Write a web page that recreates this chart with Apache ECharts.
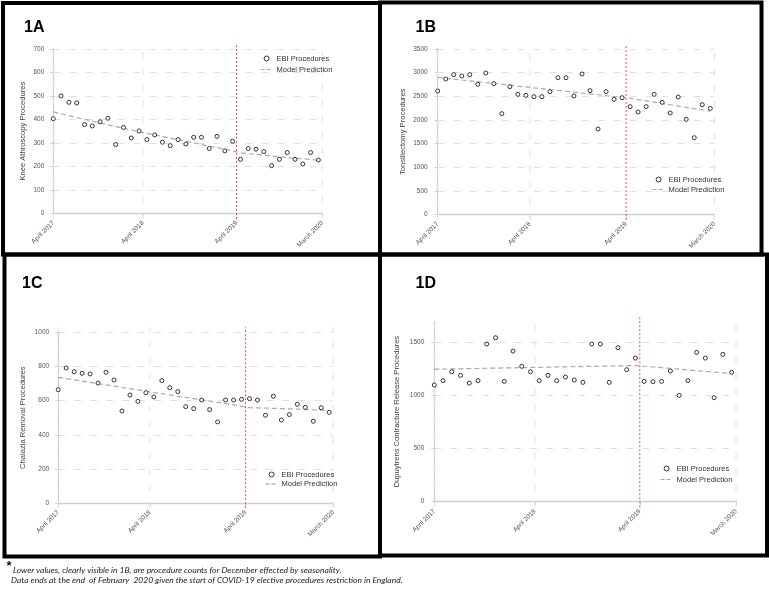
<!DOCTYPE html>
<html><head><meta charset="utf-8">
<script src="https://cdn.jsdelivr.net/npm/echarts@6/dist/echarts.min.js"></script>
<style>html,body{margin:0;padding:0;background:#fff}#c{width:769px;height:590px}</style>
</head><body><div id="c"></div>
<script>
// ---- data ----
const monthLabels = ['Apr 2017','May 2017','Jun 2017','Jul 2017','Aug 2017','Sep 2017','Oct 2017','Nov 2017','Dec 2017',
  'Jan 2018','Feb 2018','Mar 2018','Apr 2018','May 2018','Jun 2018','Jul 2018','Aug 2018','Sep 2018','Oct 2018','Nov 2018','Dec 2018',
  'Jan 2019','Feb 2019','Mar 2019','Apr 2019','May 2019','Jun 2019','Jul 2019','Aug 2019','Sep 2019','Oct 2019','Nov 2019','Dec 2019',
  'Jan 2020','Feb 2020'];
const xTickLabels = ['April 2017','April 2018','April 2019','March 2020'];
const xTickPositions = [0, 11.5, 23.5, 34.5];
const interventionPosition = 23.5;

const kneeObserved = [403,500,473,470,378,372,390,405,293,366,321,351,314,334,303,288,314,295,324,324,276,328,266,307,230,276,273,263,203,230,259,230,210,259,227];
const kneeModel = [432,424,416,408,400,393,385,377,370,362,355,348,341,334,327,320,314,307,300,293,286,280,273,266,258,254,251,248,244,241,238,235,232,229,226];
const kneeTicks = [0,100,200,300,400,500,600,700];

const tonsilObserved = [2613,2866,2958,2930,2958,2754,2993,2768,2134,2704,2542,2521,2493,2493,2599,2894,2894,2507,2972,2620,1810,2599,2437,2472,2282,2169,2282,2542,2373,2148,2486,2014,1627,2324,2246];
const tonsilModel = [2900,2882,2864,2845,2827,2809,2790,2772,2754,2735,2717,2699,2680,2662,2644,2625,2607,2589,2570,2552,2534,2516,2497,2479,2460,2432,2405,2377,2349,2322,2294,2266,2239,2211,2183];
const tonsilTicks = [0,500,1000,1500,2000,2500,3000,3500];

const chalaziaObserved = [663,790,768,759,755,702,765,720,539,632,595,646,621,716,675,652,564,553,603,547,475,603,603,607,611,603,514,625,486,518,578,560,479,558,531];
const chalaziaModel = [735,728,720,713,706,698,691,684,676,669,662,654,647,640,633,625,618,611,604,597,590,582,575,566,558,557,556,554,553,552,550,548,546,544,541];
const chalaziaTicks = [0,200,400,600,800,1000];

const dupuytrenObserved = [1101,1142,1226,1192,1119,1142,1487,1547,1135,1421,1277,1226,1142,1192,1142,1176,1148,1126,1487,1487,1126,1453,1245,1355,1135,1132,1135,1233,1003,1142,1409,1355,981,1390,1220];
const dupuytrenModel = [1250,1251,1253,1254,1256,1257,1259,1260,1262,1263,1265,1266,1268,1269,1271,1272,1274,1275,1277,1278,1280,1281,1283,1284,1278,1271,1264,1257,1250,1243,1236,1229,1222,1216,1210];
const dupuytrenTicks = [0,500,1000,1500];

const panelTitles = ['1A','1B','1C','1D'];
const yNames = ['Knee Athroscopy Procedures','Tonsillectomy Procedures','Chalazia Removal Procedures','Dupuytrens Contracture Release Procedures'];
const seriesNames = ['EBI Procedures','Model Prediction'];
const footLine1 = 'Lower values, clearly visible in 1B, are procedure counts for December effected by seasonality.';
const footLine2 = 'Data ends at the end  of February  2020 given the start of COVID-19 elective procedures restriction in England.';

// ---- layout / style ----
const FONT = 'Liberation Sans, Arial, sans-serif';
const layout = [
  {obs:kneeObserved, model:kneeModel, ticks:kneeTicks, yMax:700,
   grid:{left:53.3, top:49, width:269, height:164.3}, yOff:4, xOff:5.7, nameGap:22, vExt:[-24,724],
   legend:{left:260, top:54.5, gap:3}, title:[24,20]},
  {obs:tonsilObserved, model:tonsilModel, ticks:tonsilTicks, yMax:3500,
   grid:{left:437.7, top:49, width:276.6, height:165.7}, yOff:5, xOff:5.3, nameGap:26, vExt:[-112,3584],
   legend:{left:652, top:175.5, gap:2}, title:[415.5,20]},
  {obs:chalaziaObserved, model:chalaziaModel, ticks:chalaziaTicks, yMax:1000,
   grid:{left:58.2, top:332, width:275, height:171.3}, yOff:4, xOff:5, nameGap:27.5, vExt:[-29,1027],
   legend:{left:265, top:470.5, gap:1.7}, title:[22,276]},
  {obs:dupuytrenObserved, model:dupuytrenModel, ticks:dupuytrenTicks, yMax:1700,
   grid:{left:434.3, top:321.5, width:301.7, height:180.2}, yOff:5, xOff:5.6, nameGap:28.5, vExt:[-53,1740],
   legend:{left:660, top:464.5, gap:3}, title:[415.5,276]}
];

const grids=[], xAxes=[], yAxes=[], series=[], legends=[], graphics=[];
layout.forEach((p,i)=>{
  grids.push(Object.assign({containLabel:false}, p.grid));
  xAxes.push({gridIndex:i, type:'value', min:0, max:34.5, offset:p.xOff,
    axisLine:{show:true, lineStyle:{color:'#cfcfcf', width:1.3}},
    axisTick:{show:true, customValues:xTickPositions, length:3, lineStyle:{color:'#cfcfcf'}},
    axisLabel:{customValues:xTickPositions, rotate:45, margin:3, fontSize:6.5, color:'#555', fontFamily:FONT,
      formatter:(v)=>{const k=xTickPositions.findIndex(t=>Math.abs(t-v)<1e-6); return k>=0?xTickLabels[k]:'';}},
    splitLine:{show:false}});
  yAxes.push({gridIndex:i, type:'value', min:0, max:p.yMax, offset:p.yOff,
    name:yNames[i], nameLocation:'middle', nameGap:p.nameGap,
    nameTextStyle:{fontSize:7.6, color:'#444', fontFamily:FONT},
    axisLine:{show:true, lineStyle:{color:'#cfcfcf', width:1.3}},
    axisTick:{show:true, customValues:p.ticks, length:3, lineStyle:{color:'#cfcfcf'}},
    axisLabel:{customValues:p.ticks, margin:5, fontSize:6.5, color:'#555', fontFamily:FONT, formatter:(v)=>String(v)},
    splitLine:{show:true, lineStyle:{color:'#e0e0e0', width:1, type:[7,9]}}});
  xTickPositions.filter(t=>t!==interventionPosition).forEach(t=>{
    series.push({type:'line', xAxisIndex:i, yAxisIndex:i, silent:true, clip:false, z:1, symbol:'none',
      lineStyle:{color:'#e0e0e0', width:1, type:[7,9]}, data:[[t,p.vExt[0]],[t,p.vExt[1]]]});
  });
  series.push({type:'line', xAxisIndex:i, yAxisIndex:i, silent:true, clip:false, z:2, symbol:'none',
    itemStyle:{color:'#e8403a'},
    lineStyle:{color:'#e8403a', width:1, type:[2,2], opacity:0.9},
    data:[[interventionPosition,p.vExt[0]],[interventionPosition,p.vExt[1]]]});
  series.push({type:'line', name:seriesNames[1], xAxisIndex:i, yAxisIndex:i, symbol:'none', silent:true, z:3,
    itemStyle:{color:'#aaaaaa'},
    lineStyle:{color:'#aaaaaa', width:1.2, type:[5,3]},
    data:p.model.map((v,k)=>[k,v])});
  series.push({type:'scatter', name:seriesNames[0], xAxisIndex:i, yAxisIndex:i, symbol:'circle', symbolSize:4, z:5,
    itemStyle:{color:'#ffffff', borderColor:'#333', borderWidth:1, opacity:1},
    data:p.obs.map((v,k)=>[k,v])});
  legends.push({left:p.legend.left, top:p.legend.top, orient:'vertical', padding:0, itemGap:p.legend.gap,
    itemWidth:12, itemHeight:5, selectedMode:false,
    textStyle:{fontSize:7.5, color:'#333', fontFamily:FONT, padding:[0,0,0,-1]},
    data:[{name:seriesNames[0], icon:'circle', itemStyle:{color:'#fff', borderColor:'#333', borderWidth:1}},
          {name:seriesNames[1], itemStyle:{opacity:0}, lineStyle:{color:'#aaaaaa', width:1.2, type:[4,2], opacity:1}}]});
  graphics.push({type:'text', left:p.title[0], top:p.title[1], z:10,
    style:{text:panelTitles[i], font:'bold 16px Liberation Sans, Arial, sans-serif', fill:'#000'}});
});

// panel frames
const frames = [[3,3,377,251.5],[380,2.5,381.5,252],[4.5,254.5,375.5,302],[380,254.5,387,301]];
frames.forEach(f=>graphics.push({type:'rect', z:20, silent:true, shape:{x:f[0],y:f[1],width:f[2],height:f[3]},
  style:{fill:'none', stroke:'#000', lineWidth:4}}));

graphics.push({type:'text', left:6.5, top:560, z:10, style:{text:'*', font:'bold 13px Liberation Sans, Arial', fill:'#111'}});
graphics.push({type:'text', left:13, top:566, z:10, style:{text:footLine1, font:'italic 8.5px Lato, sans-serif', fill:'#222'}});
graphics.push({type:'text', left:11, top:575.5, z:10, style:{text:footLine2, font:'italic 8.5px Lato, sans-serif', fill:'#222'}});

const chart = echarts.init(document.getElementById('c'), null, {renderer:'canvas'});
chart.setOption({
  animation:false, backgroundColor:'#ffffff',
  grid:grids, xAxis:xAxes, yAxis:yAxes, series:series, legend:legends, graphic:graphics
});
</script></body></html>
